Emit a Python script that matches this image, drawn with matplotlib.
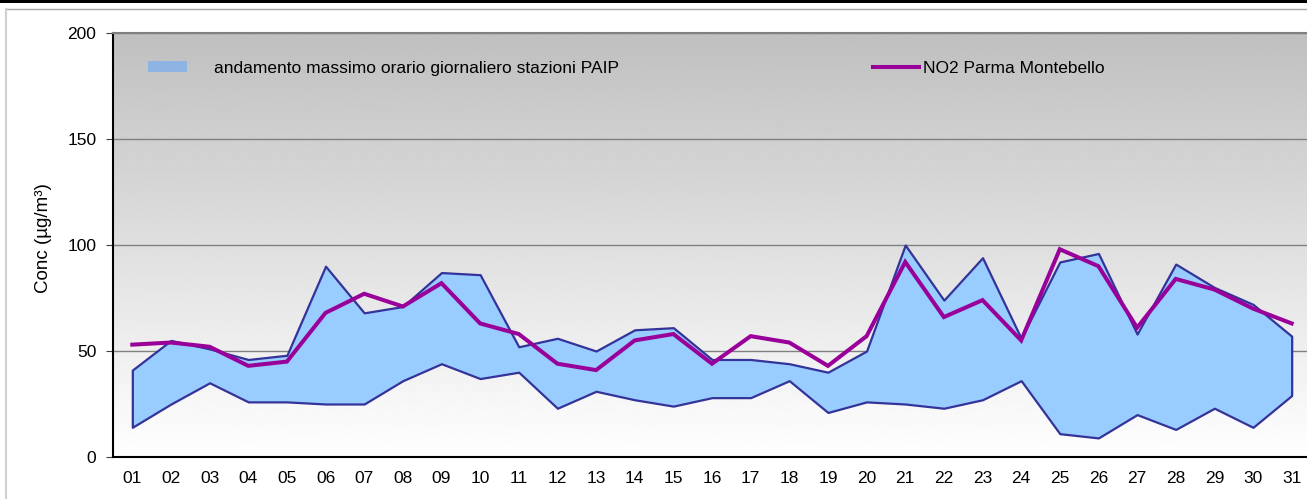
import numpy as np
import matplotlib
matplotlib.use("Agg")
import matplotlib.pyplot as plt
from matplotlib.patches import Patch, Rectangle
from matplotlib.lines import Line2D

plt.rcParams['font.family'] = ['Liberation Sans', 'DejaVu Sans']

# data
days = list(range(1, 32))
day_labels = [f"{d:02d}" for d in days]
paip_max = [41, 55, 51, 46, 48, 90, 68, 71, 87, 86, 52, 56, 50, 60, 61, 46,
            46, 44, 40, 50, 100, 74, 94, 56, 92, 96, 58, 91, 80, 72, 57]
paip_min = [14, 25, 35, 26, 26, 25, 25, 36, 44, 37, 40, 23, 31, 27, 24, 28,
            28, 36, 21, 26, 25, 23, 27, 36, 11, 9, 20, 13, 23, 14, 29]
no2_montebello = [53, 54, 52, 43, 45, 68, 77, 71, 82, 63, 58, 44, 41, 55, 58, 44,
                  57, 54, 43, 57, 92, 66, 74, 55, 98, 90, 61, 84, 79, 70, 63]
yticks = [0, 50, 100, 150, 200]

FS = 12.5
W, H = 1307, 499
fig = plt.figure(figsize=(W / 100, H / 100), dpi=100)
fig.patch.set_facecolor('white')

# plot area in pixels
left, right, top, bottom = 113, 1311, 33, 457
ax = fig.add_axes([left / W, (H - bottom) / H, (right - left) / W, (bottom - top) / H])
ax.set_xlim(0.5, 31.5)
ax.set_ylim(0, 200)

# gray (top) -> white (bottom) gradient background
grad = np.linspace(0.75, 1.0, 256).reshape(-1, 1)
ax.imshow(grad, cmap='gray', vmin=0, vmax=1, extent=[0, 1, 0, 1], origin='upper',
          transform=ax.transAxes, aspect='auto', zorder=0, interpolation='bilinear')

ax.set_axisbelow(True)
ax.yaxis.grid(True, color='#808080', linewidth=1.0)

ax.fill_between(days, paip_min, paip_max, facecolor='#99CCFF',
                edgecolor='#333399', linewidth=1.6, zorder=2)
ax.plot(days, no2_montebello, color='#990099', linewidth=2.9, zorder=3,
        solid_joinstyle='miter')

ax.set_xticks(days)
ax.set_xticklabels(day_labels)
ax.set_yticks(yticks)
ax.tick_params(axis='x', length=0, pad=10, labelsize=FS)
ax.tick_params(axis='y', length=5, pad=7, labelsize=FS, color='#404040')

ax.spines['right'].set_visible(False)
ax.spines['top'].set_color('#808080')
ax.spines['top'].set_linewidth(1.5)
ax.spines['left'].set_linewidth(1.5)
ax.spines['bottom'].set_linewidth(1.5)

ax.set_ylabel('Conc (µg/m³)', fontsize=13.5)
ax.yaxis.set_label_coords(-0.051, 0.516)

# legends
leg1 = ax.legend([Patch(facecolor='#8DB4E3', edgecolor='none')],
                 ['andamento massimo orario giornaliero stazioni PAIP'],
                 loc='center left', bbox_to_anchor=(0.029, 0.917), frameon=False,
                 fontsize=FS, handlelength=2.24, handletextpad=1.55,
                 handleheight=0.63, borderpad=0, borderaxespad=0)
ax.add_artist(leg1)
ax.legend([Line2D([0], [0], color='#990099', linewidth=2.9)],
          ['NO2 Parma Montebello'],
          loc='center left', bbox_to_anchor=(0.634, 0.917), frameon=False,
          fontsize=FS, handlelength=2.7, handletextpad=0.23,
          borderpad=0, borderaxespad=0)

# outer frame pieces
fig.add_artist(Rectangle((0, 1 - 3 / H), 1, 3 / H, transform=fig.transFigure,
                         facecolor='black', edgecolor='none'))
fig.add_artist(Line2D([6 / W, 1], [1 - 9 / H, 1 - 9 / H], transform=fig.transFigure,
                      color='#a6a6a6', linewidth=1))
fig.add_artist(Line2D([6 / W, 6 / W], [0, 1 - 9 / H], transform=fig.transFigure,
                      color='#d0d0d0', linewidth=1.5))

fig.savefig('out.png', dpi=100)
